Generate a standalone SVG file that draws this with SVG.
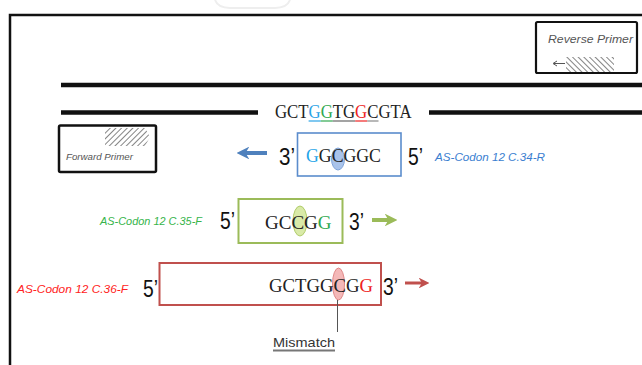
<svg xmlns="http://www.w3.org/2000/svg" width="642" height="365" viewBox="0 0 642 365">
<style>
.seq{font-family:"Liberation Serif","Times New Roman",serif;font-size:19px;fill:#222}
.end{font-family:"Liberation Sans",Arial,sans-serif;font-size:23px;fill:#111}
.lab{font-family:"Liberation Sans",Arial,sans-serif;font-style:italic;font-size:11px}
.prim{font-family:"Liberation Sans",Arial,sans-serif;font-style:italic;fill:#555}
.strand{stroke:#111;stroke-width:4.5;fill:none}
</style>
<defs>
<pattern id="hatchF" width="4" height="4" patternUnits="userSpaceOnUse" patternTransform="rotate(45)">
<rect width="4" height="4" fill="#fff"/><line x1="0" y1="0" x2="0" y2="4" stroke="#666" stroke-width="1.6"/>
</pattern>
<pattern id="hatchR" width="4" height="4" patternUnits="userSpaceOnUse" patternTransform="rotate(-45)">
<rect width="4" height="4" fill="#fff"/><line x1="0" y1="0" x2="0" y2="4" stroke="#666" stroke-width="1.6"/>
</pattern>
<marker id="ahB" viewBox="0 0 10 10" refX="5" refY="5" markerWidth="3.2" markerHeight="3.2" orient="auto"><path d="M0,0 L10,5 L0,10 L3,5 Z" fill="#4f81bd"/></marker>
<marker id="ahG" viewBox="0 0 10 10" refX="5" refY="5" markerWidth="3.2" markerHeight="3.2" orient="auto"><path d="M0,0 L10,5 L0,10 L3,5 Z" fill="#9bbb59"/></marker>
<marker id="ahR" viewBox="0 0 10 10" refX="5" refY="5" markerWidth="3.6" markerHeight="3.6" orient="auto"><path d="M0,0 L10,5 L0,10 L3,5 Z" fill="#c0504d"/></marker>
</defs>
<rect width="642" height="365" fill="#fff"/>
<path d="M215,0 Q218,8 230,8 L275,8 Q287,8 290,0" fill="none" stroke="#eee" stroke-width="2"/>
<path d="M10,367 V15 H645" fill="none" stroke="#111" stroke-width="2.5"/>

<g id="template">
<line class="strand" x1="61" y1="85" x2="642" y2="85"/>
<line class="strand" x1="61" y1="112.5" x2="258" y2="112.5"/>
<line class="strand" x1="429" y1="112.5" x2="642" y2="112.5"/>
<text class="seq" transform="translate(275,118) scale(0.8835,1)" x="0" y="0">GCT<tspan fill="#2aa3e6">G</tspan><tspan fill="#2fa84f">G</tspan>TG<tspan fill="#ee2222">G</tspan>CGTA</text>
<line x1="308.6" y1="121" x2="320.7" y2="121" stroke="#2aa3e6" stroke-width="1.2"/>
<line x1="320.7" y1="121" x2="332.8" y2="121" stroke="#2fa84f" stroke-width="1.2"/>
<line x1="332.8" y1="121" x2="355.2" y2="121" stroke="#666" stroke-width="1.2"/>
<line x1="355.2" y1="121" x2="367.3" y2="121" stroke="#ee2222" stroke-width="1.2"/>
<line x1="367.3" y1="121" x2="378.5" y2="121" stroke="#888" stroke-width="1.2"/>
</g>

<g id="reverse-primer">
<rect x="536" y="22" width="101" height="51" fill="#fff" stroke="#111" stroke-width="2.2" rx="1.5"/>
<text class="prim" x="548" y="43" font-size="10" textLength="85" lengthAdjust="spacingAndGlyphs">Reverse Primer</text>
<rect x="566" y="57" width="48" height="15" fill="url(#hatchR)"/>
<path d="M565,63.5 H554 M557,61 L553,63.5 L557,66" fill="none" stroke="#555" stroke-width="1"/>
</g>

<g id="forward-primer">
<rect x="59" y="125.5" width="97" height="46.5" fill="#fff" stroke="#111" stroke-width="2.5" rx="1.5"/>
<path d="M105,128 H145 L150,137 L145,146 H105 Z" fill="url(#hatchF)"/>
<text class="prim" x="66" y="160" font-size="9.5" textLength="67" lengthAdjust="spacingAndGlyphs">Forward Primer</text>
</g>

<g id="primer-34R">
<rect x="297.5" y="133" width="103.5" height="43" fill="#fff" stroke="#5b8ccc" stroke-width="1.6"/>
<ellipse cx="338" cy="159" rx="6.5" ry="11" fill="#a9c3ea" stroke="#7fa3d8" stroke-width="1"/>
<text class="seq" transform="translate(306,162) scale(0.935,1)" x="0" y="0"><tspan fill="#1fa5e8">G</tspan>GCGGC</text>
<text class="end" x="279" y="165" textLength="16" lengthAdjust="spacingAndGlyphs">3’</text>
<text class="end" x="408" y="165" textLength="15" lengthAdjust="spacingAndGlyphs">5’</text>
<text class="lab" x="435" y="161" fill="#3a7ed0" textLength="110" lengthAdjust="spacingAndGlyphs">AS-Codon 12 C.34-R</text>
</g>

<g id="primer-35F">
<rect x="238.5" y="199" width="104" height="44" fill="#fff" stroke="#9bbb59" stroke-width="2"/>
<ellipse cx="300" cy="221" rx="7" ry="15" fill="#d9eaa8" stroke="#b0cc6a" stroke-width="1"/>
<text class="seq" transform="translate(265,229)" x="0" y="0" font-size="20">GCCG<tspan fill="#2fa84f">G</tspan></text>
<text class="end" x="220" y="229" textLength="15" lengthAdjust="spacingAndGlyphs">5’</text>
<text class="end" x="349" y="230" textLength="15" lengthAdjust="spacingAndGlyphs">3’</text>
<text class="lab" x="100" y="225" fill="#36b44a" textLength="102" lengthAdjust="spacingAndGlyphs">AS-Codon 12 C.35-F</text>
</g>

<g id="primer-36F">
<rect x="159.5" y="263" width="221.5" height="42" fill="#fff" stroke="#c0504d" stroke-width="2"/>
<ellipse cx="338.5" cy="284" rx="6" ry="16" fill="#f4b8b8" stroke="#e08888" stroke-width="1"/>
<text class="seq" transform="translate(269,292) scale(0.986,1)" x="0" y="0">GCTGGCG<tspan fill="#ee2222">G</tspan></text>
<text class="end" x="143" y="297" textLength="15" lengthAdjust="spacingAndGlyphs">5’</text>
<text class="end" x="383" y="295" textLength="15" lengthAdjust="spacingAndGlyphs">3’</text>
<text class="lab" x="17" y="293" fill="#ff2222" textLength="111" lengthAdjust="spacingAndGlyphs">AS-Codon 12 C.36-F</text>
</g>

<g id="mismatch">
<text x="273" y="347" font-family="'Liberation Sans',Arial,sans-serif" font-size="13" fill="#333" textLength="62" lengthAdjust="spacingAndGlyphs">Mismatch</text>
<line x1="273" y1="350.5" x2="335" y2="350.5" stroke="#777" stroke-width="2"/>
</g>

<g id="connectors">
<line x1="267" y1="153" x2="243" y2="153" stroke="#4f81bd" stroke-width="4" marker-end="url(#ahB)"/>
<line x1="372" y1="220" x2="391" y2="220" stroke="#9bbb59" stroke-width="4" marker-end="url(#ahG)"/>
<line x1="405" y1="283" x2="424" y2="283" stroke="#c0504d" stroke-width="3" marker-end="url(#ahR)"/>
<line x1="337.5" y1="300" x2="337.5" y2="332" stroke="#555" stroke-width="1"/>
</g>
</svg>
